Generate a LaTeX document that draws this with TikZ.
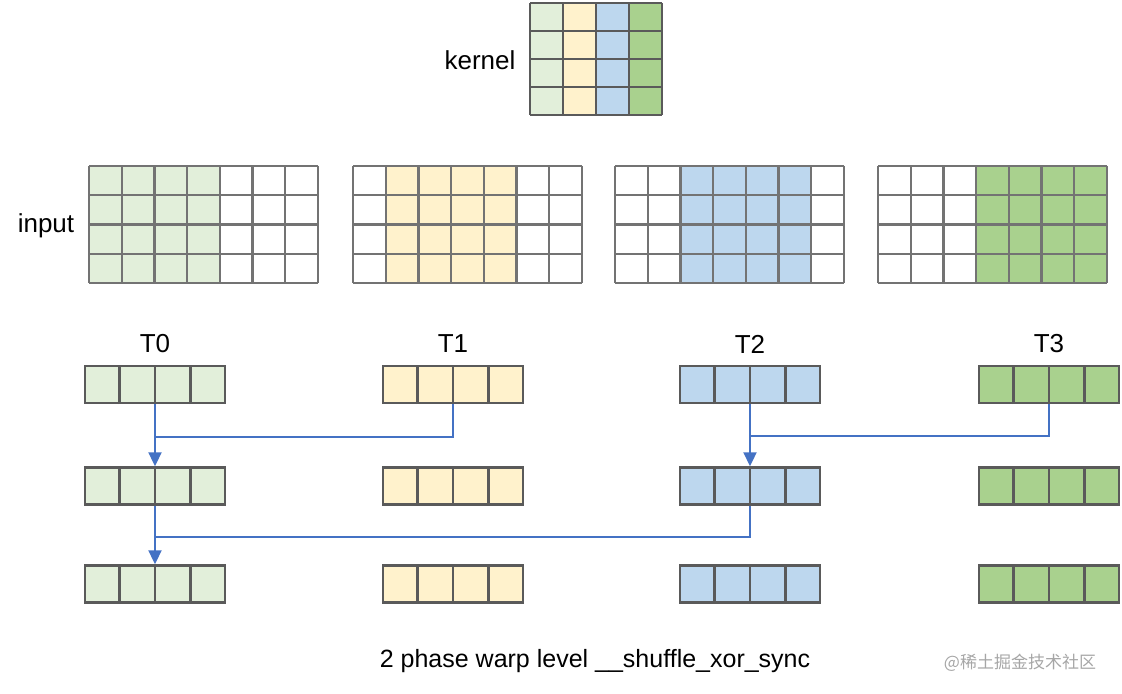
\documentclass[tikz,border=0pt]{standalone}
\usepackage{fontspec}
\setmainfont{Liberation Sans}
\newfontfamily\cjkfont{Noto Sans CJK SC}
\usetikzlibrary{arrows.meta, positioning, calc}
\definecolor{lane0}{HTML}{E2EFDA}
\definecolor{lane1}{HTML}{FFF2CC}
\definecolor{lane2}{HTML}{BDD7EE}
\definecolor{lane3}{HTML}{A9D18E}
\definecolor{gridgray}{HTML}{5A5A5A}
\definecolor{shfl}{HTML}{4472C4}

\tikzset{
  lbl/.style={font=\fontsize{13pt}{15pt}\selectfont, inner sep=0pt},
  regbox/.style={draw=gridgray, line width=1.2pt, minimum width=70pt,
                 minimum height=18.5pt, inner sep=0pt},
  shuffle/.style={shfl, line width=1pt},
  arr/.style={-{Triangle[length=7pt, width=6.5pt]}},
}

\begin{document}
\begin{tikzpicture}[x=0.5pt, y=-0.5pt]
  \useasboundingbox (0,0) rectangle (1122,694);

  % Kernel: 4x4, one colour per column
  \def\kx{530} \def\ky{3} \def\kw{33} \def\kh{28}
  \foreach \c in {0,...,3}
    \fill[lane\c] (\kx+\c*\kw, \ky) rectangle ++(\kw, 4*\kh);
  \foreach \i in {0,...,4} {
    \draw[gridgray, line width=1.2pt] (\kx+\i*\kw, \ky) -- ++(0, 4*\kh);
    \draw[gridgray, line width=1.2pt] (\kx, \ky+\i*\kh) -- ++(4*\kw, 0);
  }
  \node[lbl] (kernel) at (480, 60) {kernel};

  % Input: 4 copies of a 7x4 grid, window shifted by one column each
  \def\iy{166} \def\cw{32.7} \def\ch{29.25}
  \foreach \g/\gx/\col in {0/89/lane0, 1/353/lane1, 2/615/lane2, 3/878/lane3} {
    \fill[\col] (\gx+\g*\cw, \iy) rectangle ++(4*\cw, 4*\ch);
    \foreach \i in {0,...,7}
      \draw[gridgray!85, line width=1.1pt] (\gx+\i*\cw, \iy) -- ++(0, 4*\ch);
    \foreach \j in {0,...,4}
      \draw[gridgray!85, line width=1.1pt] (\gx, \iy+\j*\ch) -- ++(7*\cw, 0);
  }
  \node[lbl] (input) at (46, 226) {input};

  % Per-thread registers, three phases
  \foreach \t/\tx in {0/155, 1/453, 2/750, 3/1049} {
    \node[lbl] (T\t) at (\tx, 344) {T\t};
    \foreach \r/\ry in {1/384.5, 2/486, 3/584} {
      \node[regbox, fill=lane\t] (r\r t\t) at (\tx, \ry) {};
      \foreach \f in {0.25, 0.5, 0.75}
        \draw[gridgray, line width=1.2pt]
          ($(r\r t\t.south west)!\f!(r\r t\t.south east)$) --
          ($(r\r t\t.north west)!\f!(r\r t\t.north east)$);
    }
  }

  % Phase 1: xor 1
  \coordinate (j10) at (155, 437);
  \coordinate (j12) at (750, 436);
  \draw[shuffle, arr] (r1t0.south) -- (r2t0.north);
  \draw[shuffle] (r1t1.south) |- (j10);
  \draw[shuffle, arr] (r1t2.south) -- (r2t2.north);
  \draw[shuffle] (r1t3.south) |- (j12);

  % Phase 2: xor 2
  \coordinate (j20) at (155, 537);
  \draw[shuffle, arr] (r2t0.south) -- (r3t0.north);
  \draw[shuffle] (r2t2.south) |- (j20);

  \node[lbl, font=\fontsize{12.5pt}{15pt}\selectfont] (caption) at (595, 661)
    {2 phase warp level \_\_shuffle\_xor\_sync};
  \node[font=\cjkfont\fontsize{8.5pt}{10pt}\selectfont, text=gray!70, inner sep=0pt]
    (mark) at (1020, 663) {@稀土掘金技术社区};
\end{tikzpicture}
\end{document}
